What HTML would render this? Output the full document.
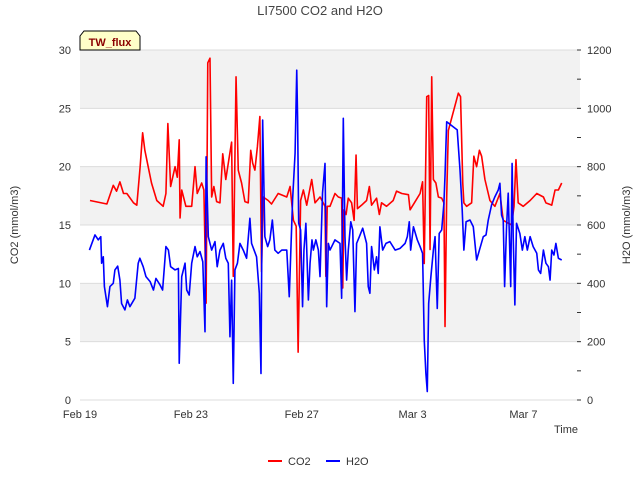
<!DOCTYPE html>
<html><head><meta charset="utf-8"><style>
body{margin:0;background:#fff;font-family:"Liberation Sans",sans-serif}
svg text{font-family:"Liberation Sans",sans-serif}
</style></head><body>
<svg id="chart" width="640" height="480" viewBox="0 0 640 480">
<g id="bg"></g><g id="axes"></g><g id="series"></g>
<text x="320" y="15" text-anchor="middle" font-size="13" fill="#444">LI7500 CO2 and H2O</text>
<g>
<path d="M80,50 L80,36 L84,31 L136,31 L140,36 L140,50 Z" fill="#ffffc8" stroke="#000" stroke-width="1"/>
<text x="110" y="46" text-anchor="middle" font-size="11" font-weight="bold" fill="#8b0000">TW_flux</text></g>
<text transform="translate(18,225) rotate(-90)" text-anchor="middle" font-size="11" fill="#333">CO2 (mmol/m3)</text>
<text transform="translate(630,225) rotate(-90)" text-anchor="middle" font-size="11" fill="#333">H2O (mmol/m3)</text>
<text x="578" y="433" text-anchor="end" font-size="11" fill="#333">Time</text>
<g><line x1="268" y1="461" x2="282" y2="461" stroke="#f00" stroke-width="2"/><text x="288" y="465" font-size="11" fill="#333">CO2</text></g>
<g><line x1="326" y1="461" x2="340" y2="461" stroke="#00f" stroke-width="2"/><text x="346" y="465" font-size="11" fill="#333">H2O</text></g>
</svg>
<script>
const xTickLabels=["Feb 19","Feb 23","Feb 27","Mar 3","Mar 7"];
const xTickDays=[0,4,8,12,16];
const leftTicks=[0,5,10,15,20,25,30];
const rightTicks=[0,200,400,600,800,1000,1200];
const co2Days=[.36,.97,1.2,1.32,1.44,1.57,1.69,1.93,2.05,2.17,2.26,2.34,2.46,2.58,2.77,3.0,3.1,3.17,3.27,3.43,3.51,3.58,3.61,3.67,3.82,4.03,4.15,4.23,4.39,4.47,4.55,4.61,4.69,4.75,4.83,4.93,5.05,5.15,5.26,5.39,5.47,5.53,5.63,5.71,5.83,5.95,6.07,6.16,6.23,6.31,6.4,6.49,6.55,6.61,6.79,6.91,7.15,7.46,7.58,7.7,7.8,7.87,7.96,8.06,8.18,8.36,8.48,8.66,8.84,8.87,8.92,9.02,9.2,9.32,9.44,9.48,9.52,9.6,9.68,9.8,9.89,9.96,10.01,10.16,10.34,10.44,10.52,10.7,10.8,10.88,11.06,11.3,11.42,11.61,11.85,11.91,12.09,12.27,12.36,12.42,12.51,12.58,12.63,12.69,12.75,12.84,12.93,13.05,13.13,13.17,13.23,13.29,13.65,13.73,13.81,13.85,13.95,14.13,14.21,14.31,14.41,14.49,14.61,14.79,14.97,15.15,15.27,15.57,15.66,15.73,15.81,15.99,16.24,16.48,16.72,16.81,17.02,17.14,17.26,17.38];
const co2Vals=[17.1,16.8,18.4,17.9,18.7,17.7,17.7,16.9,16.7,20,22.9,21.4,20,18.6,17.1,16.6,17.7,23.7,18.3,20,19.1,22.3,15.6,18,16.6,16.6,20,17.7,18.6,18,8.3,28.9,29.3,17.4,18.3,17,16.9,21.1,18.9,20.9,22.1,10.6,27.7,19.7,18.6,17,16.9,21.4,20.3,19.7,21.7,24.3,11,17.4,17.1,16.8,17.7,17.4,18.3,15.4,14.9,4.1,17.1,18,16.7,18.9,16.9,17.4,16.6,10.6,16.6,16.6,17.7,17.4,17.3,9.6,16.3,15.9,17.3,16.9,15.4,21,16.4,16.7,17.1,18.3,16.7,17.3,15.9,16.9,16.6,17.1,17.9,17.7,17.6,16.3,17,17.7,18.7,11.7,26,26.1,12.9,27.7,18.9,18.6,17.4,17.3,16.9,6.3,17.4,23.1,26.3,26,18.6,16.9,16.6,16.9,20.9,20,21.4,20.9,18.9,17.1,16.6,17.7,15.4,15,16.6,20.6,16.9,16.6,17.1,17.7,17.4,16.9,16.7,18,18,18.6];
const h2oDays=[.34,.54,.66,.75,.78,.84,.88,.99,1.08,1.2,1.26,1.36,1.44,1.5,1.62,1.71,1.8,1.98,2.1,2.16,2.28,2.38,2.53,2.65,2.74,2.89,2.98,3.1,3.19,3.27,3.43,3.55,3.58,3.67,3.79,3.85,3.94,4.03,4.15,4.23,4.33,4.43,4.51,4.55,4.63,4.75,4.87,4.95,5.05,5.17,5.26,5.35,5.41,5.47,5.53,5.59,5.68,5.77,5.89,6.01,6.13,6.19,6.28,6.37,6.47,6.53,6.59,6.67,6.77,6.85,6.94,7.03,7.15,7.28,7.46,7.55,7.67,7.76,7.82,7.85,7.89,7.96,8.03,8.08,8.15,8.24,8.3,8.37,8.42,8.51,8.6,8.66,8.75,8.84,8.9,8.96,9.02,9.2,9.38,9.44,9.5,9.56,9.62,9.68,9.77,9.84,9.92,9.98,10.08,10.2,10.34,10.4,10.46,10.52,10.62,10.7,10.76,10.82,10.92,11.04,11.18,11.37,11.55,11.73,11.81,11.88,11.93,12.03,12.17,12.27,12.36,12.42,12.48,12.53,12.58,12.66,12.75,12.81,12.89,12.96,13.05,13.13,13.17,13.23,13.61,13.71,13.79,13.85,13.93,14.07,14.19,14.31,14.43,14.55,14.65,14.73,14.85,14.97,15.09,15.15,15.21,15.27,15.32,15.39,15.45,15.54,15.59,15.63,15.69,15.75,15.87,15.96,16.05,16.14,16.24,16.35,16.48,16.54,16.62,16.72,16.81,16.9,16.96,17.02,17.1,17.17,17.26,17.38];
const h2oVals=[514,566,549,560,469,491,389,320,389,400,446,459,411,331,309,343,320,349,469,486,457,423,406,377,417,394,377,526,514,457,446,451,126,423,469,377,360,469,526,491,509,474,234,834,560,514,543,457,514,537,486,469,217,411,57,446,469,537,514,486,623,537,514,491,366,91,960,560,526,549,617,514,503,514,514,354,686,846,1131,971,606,583,320,514,606,343,469,549,514,549,514,423,709,811,320,537,514,549,537,349,966,560,411,514,611,583,303,537,560,589,537,389,366,526,446,491,434,594,514,537,543,514,520,537,560,611,514,594,549,526,503,206,91,29,331,423,514,560,314,571,583,674,771,954,926,789,651,514,611,617,594,480,520,560,566,617,669,697,720,743,634,617,389,594,709,389,811,560,326,606,571,514,560,514,560,526,503,446,434,514,469,457,411,514,497,537,486,480];
const L=80,R=580,T=50,B=400,NS="http://www.w3.org/2000/svg";
const xS=d=>L+d*(R-L)/18.04;
const yL=v=>B-v*(B-T)/30;
const yR=v=>B-v*(B-T)/1200;
function mk(tag,at,parent){const e=document.createElementNS(NS,tag);for(const k in at)e.setAttribute(k,at[k]);parent.appendChild(e);return e;}
const bg=document.getElementById('bg'),ax=document.getElementById('axes'),se=document.getElementById('series');
const plot=mk('rect',{x:L,y:T,width:R-L,height:B-T,fill:'#fff'},bg);


[[25,30],[15,20],[5,10]].forEach(b=>{const r=mk('rect',{x:L,y:yL(b[1]),width:R-L,height:yL(b[0])-yL(b[1]),fill:'#f2f2f2'},bg);

});
leftTicks.forEach(v=>{const g=mk('line',{x1:L,x2:R,y1:yL(v),y2:yL(v),stroke:'#dcdcdc','stroke-width':1},bg);


const t=mk('text',{x:L-9,y:yL(v)+4,'text-anchor':'end','font-size':11,fill:'#333'},ax);t.textContent=v;

});
for(let v=0;v<=1200;v+=100){mk('line',{x1:R-3,x2:R+1,y1:yR(v),y2:yR(v),stroke:'#333'},ax);}
rightTicks.forEach(v=>{const t=mk('text',{x:R+7,y:yR(v)+4,'font-size':11,fill:'#333'},ax);t.textContent=v;

});
xTickDays.forEach((d,i)=>{
const t=mk('text',{x:xS(d),y:B+18,'text-anchor':'middle','font-size':11,fill:'#333'},ax);t.textContent=xTickLabels[i];

});
const co2=mk('polyline',{points:co2Days.map((d,i)=>xS(d)+','+yL(co2Vals[i])).join(' '),fill:'none',stroke:'#f00','stroke-width':1.6,'stroke-linejoin':'round'},se);


const h2o=mk('polyline',{points:h2oDays.map((d,i)=>xS(d)+','+yR(h2oVals[i])).join(' '),fill:'none',stroke:'#00f','stroke-width':1.6,'stroke-linejoin':'round'},se);


</script>
</body></html>
